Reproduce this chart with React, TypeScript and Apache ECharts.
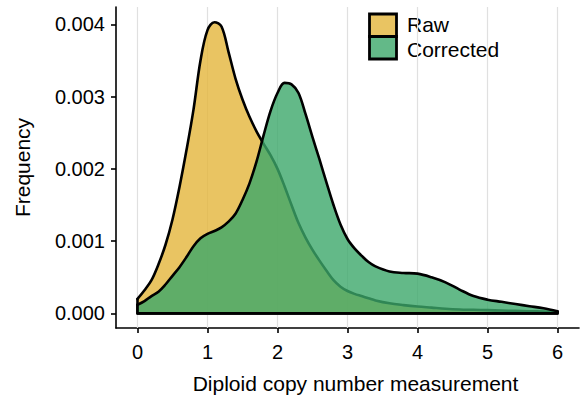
import React, { useEffect, useRef } from "react";
import * as echarts from "echarts";

const FONT = '"Liberation Sans", Arial, Helvetica, sans-serif';

// x positions of the density estimates (copy number)
const xValues = [
  0, 0.1, 0.2, 0.3, 0.4, 0.5, 0.6, 0.7, 0.8, 0.9, 1.0, 1.1, 1.2, 1.3, 1.4, 1.5,
  1.6, 1.7, 1.8, 1.9, 2.0, 2.1, 2.2, 2.3, 2.4, 2.5, 2.6, 2.7, 2.8, 2.9, 3.0,
  3.1, 3.2, 3.3, 3.4, 3.6, 3.8, 4.0, 4.2, 4.4, 4.6, 4.8, 5.0, 5.2, 5.4, 5.6,
  5.8, 6.0,
];

// densities in units of 0.001
const rawDensity = [
  0.2, 0.32, 0.46, 0.68, 0.95, 1.3, 1.75, 2.26, 2.82, 3.5, 3.92, 4.03, 3.97,
  3.62, 3.25, 2.96, 2.72, 2.52, 2.35, 2.19, 2.0, 1.76, 1.5, 1.25, 1.05, 0.88,
  0.73, 0.59, 0.46, 0.37, 0.31, 0.27, 0.24, 0.21, 0.18, 0.14, 0.115, 0.095,
  0.08, 0.065, 0.055, 0.05, 0.045, 0.04, 0.035, 0.03, 0.025, 0.02,
];

const correctedDensity = [
  0.12, 0.17, 0.24, 0.3, 0.4, 0.52, 0.64, 0.78, 0.93, 1.04, 1.1, 1.14, 1.19,
  1.27, 1.38, 1.57, 1.8, 2.1, 2.46, 2.8, 3.05, 3.19, 3.17, 3.05, 2.76, 2.44,
  2.13, 1.81, 1.5, 1.23, 1.03, 0.9, 0.8, 0.71, 0.65, 0.58, 0.56, 0.55, 0.5,
  0.43, 0.33, 0.24, 0.19, 0.16, 0.13, 0.1, 0.07, 0.03,
];

const UNIT = 0.001;
const xTicks = [0, 1, 2, 3, 4, 5, 6];
const yTicks = [0, 0.001, 0.002, 0.003, 0.004];
const legendNames = ["Raw", "Corrected"];

const X_MIN = -0.307;
const X_MAX = 6.307;
const Y_MIN = -0.000202;
const Y_MAX = 0.00424;

const RAW_FILL = "rgba(227,181,59,0.8)";
const COR_FILL = "rgba(60,167,106,0.8)";

export default function App() {
  const ref = useRef<HTMLDivElement>(null);

  useEffect(() => {
    if (!ref.current) return;
    const chart = echarts.init(ref.current, undefined, { renderer: "svg" });

    const rawPairs = xValues.map((x, i) => [x, rawDensity[i] * UNIT]);
    const corPairs = xValues.map((x, i) => [x, correctedDensity[i] * UNIT]);
    const xFirst = xValues[0];
    const xLast = xValues[xValues.length - 1];
    const rawEdges = [
      [xFirst, rawDensity[0] * UNIT],
      [xFirst, 0],
      [xLast, 0],
      [xLast, rawDensity[rawDensity.length - 1] * UNIT],
    ];
    const corEdges = [
      [xFirst, correctedDensity[0] * UNIT],
      [xFirst, 0],
      [xLast, 0],
      [xLast, correctedDensity[correctedDensity.length - 1] * UNIT],
    ];

    const outline = { color: "#000", width: 2.6, join: "round", cap: "round" };

    const gridSeries = xTicks.map((v) => ({
      type: "line",
      data: [
        [v, Y_MIN],
        [v, Y_MAX],
      ],
      showSymbol: false,
      symbol: "none",
      silent: true,
      z: 1,
      lineStyle: { color: "#e0e0e0", width: 1.2 },
      emphasis: { disabled: true },
    }));

    const option: any = {
      animation: false,
      grid: { left: 116, right: 8, top: 7, bottom: 71 },
      xAxis: {
        type: "value",
        min: X_MIN,
        max: X_MAX,
        axisLine: { show: true, onZero: false, lineStyle: { color: "#000", width: 1.6 } },
        axisTick: { show: true, customValues: xTicks, length: 5, lineStyle: { color: "#000", width: 1.6 } },
        axisLabel: {
          customValues: xTicks,
          color: "#000",
          fontSize: 20,
          fontFamily: FONT,
          margin: 14,
          formatter: (v: number) => String(v),
        },
        splitLine: { show: false },
        name: "Diploid copy number measurement",
        nameLocation: "middle",
        nameGap: 45,
        nameTextStyle: { color: "#000", fontSize: 21, fontFamily: FONT, padding: [0, 0, 0, 16] },
      },
      yAxis: {
        type: "value",
        min: Y_MIN,
        max: Y_MAX,
        axisLine: { show: true, onZero: false, lineStyle: { color: "#000", width: 1.6 } },
        axisTick: { show: true, customValues: yTicks, length: 5, lineStyle: { color: "#000", width: 1.6 } },
        axisLabel: {
          customValues: yTicks,
          color: "#000",
          fontSize: 20,
          fontFamily: FONT,
          margin: 11,
          formatter: (v: number) => v.toFixed(3),
        },
        splitLine: { show: false },
        name: "Frequency",
        nameLocation: "middle",
        nameGap: 83,
        nameTextStyle: { color: "#000", fontSize: 21, fontFamily: FONT },
      },
      series: [
        ...gridSeries,
        {
          name: legendNames[0],
          type: "line",
          data: rawPairs,
          smooth: 0.35,
          showSymbol: false,
          symbol: "none",
          silent: true,
          z: 2,
          lineStyle: outline,
          areaStyle: { color: RAW_FILL, opacity: 1 },
          emphasis: { disabled: true },
        },
        {
          type: "line",
          data: rawEdges,
          showSymbol: false,
          symbol: "none",
          silent: true,
          z: 2,
          lineStyle: outline,
          emphasis: { disabled: true },
        },
        {
          name: legendNames[1],
          type: "line",
          data: corPairs,
          smooth: 0.35,
          showSymbol: false,
          symbol: "none",
          silent: true,
          z: 3,
          lineStyle: outline,
          areaStyle: { color: COR_FILL, opacity: 1 },
          emphasis: { disabled: true },
        },
        {
          type: "line",
          data: corEdges,
          showSymbol: false,
          symbol: "none",
          silent: true,
          z: 3,
          lineStyle: outline,
          emphasis: { disabled: true },
        },
      ],
      graphic: [
        {
          type: "rect",
          shape: { x: 369.5, y: 14, width: 27, height: 22.5 },
          style: { fill: RAW_FILL, stroke: "#000", lineWidth: 2.8 },
        },
        {
          type: "rect",
          shape: { x: 369.5, y: 36.5, width: 27, height: 22.5 },
          style: { fill: COR_FILL, stroke: "#000", lineWidth: 2.8 },
        },
        {
          type: "text",
          style: {
            text: legendNames[0],
            x: 407,
            y: 24,
            fill: "#000",
            fontSize: 21,
            fontFamily: FONT,
            verticalAlign: "middle",
          },
        },
        {
          type: "text",
          style: {
            text: legendNames[1],
            x: 407,
            y: 49,
            fill: "#000",
            fontSize: 21,
            fontFamily: FONT,
            verticalAlign: "middle",
          },
        },
      ],
    };

    chart.setOption(option);
    return () => chart.dispose();
  }, []);

  return (
    <div
      ref={ref}
      style={{ position: "fixed", left: 0, top: 0, width: 587, height: 399, background: "#fff" }}
    />
  );
}
